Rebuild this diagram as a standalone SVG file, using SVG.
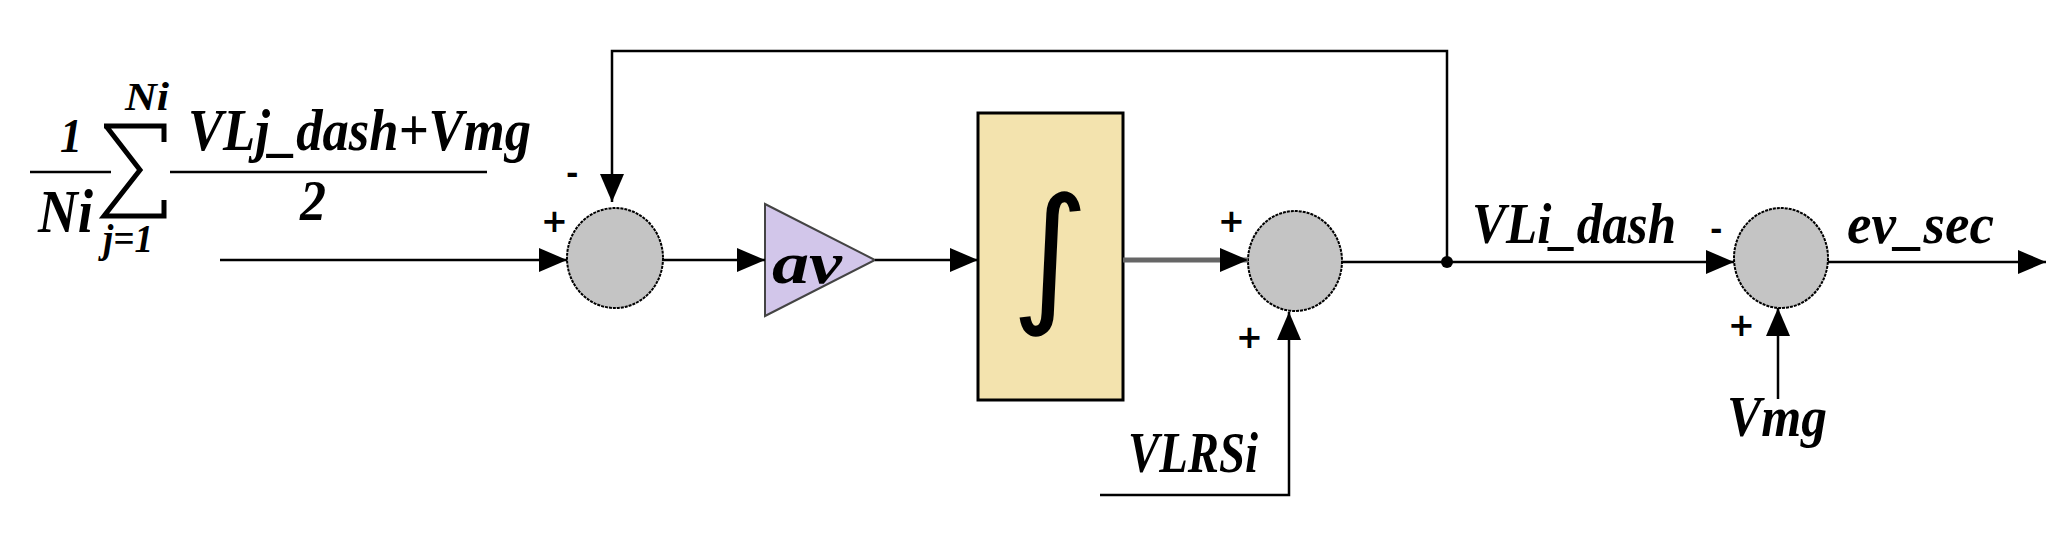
<svg xmlns="http://www.w3.org/2000/svg" width="2062" height="542" viewBox="0 0 2062 542">
<style>
.t{font-family:"Liberation Serif",serif;font-style:italic;font-weight:bold;fill:#000}
.w{stroke:#000;stroke-width:2.5;fill:none}
.sum{fill:#c4c4c4;stroke:#000;stroke-width:2;stroke-dasharray:3 1}
.s{font-family:"DejaVu Sans",sans-serif;font-weight:bold;fill:#000}
</style>
<defs>
<marker id="b" markerWidth="30" markerHeight="24" refX="28" refY="12" orient="auto" markerUnits="userSpaceOnUse"><path d="M0,0 L28,12 L0,24 Z" fill="#000"/></marker>
</defs>
<g id="formula">
<line x1="30" y1="172" x2="111" y2="172" class="w"/>
<line x1="170" y1="172" x2="487" y2="172" class="w"/>
<text class="t" x="60" y="152" font-size="48" textLength="22" lengthAdjust="spacingAndGlyphs">1</text>
<text class="t" x="38" y="232" font-size="62" textLength="55" lengthAdjust="spacingAndGlyphs">Ni</text>
<text class="t" x="125" y="110" font-size="40" textLength="44" lengthAdjust="spacingAndGlyphs">Ni</text>
<text class="t" x="103" y="252" font-size="40" textLength="50" lengthAdjust="spacingAndGlyphs">j=1</text>
<path d="M104,126 L164,126 L164,142 M106,126 L140,170 L104,216 L164,216 L164,200" fill="none" stroke="#000" stroke-width="5"/>
<text class="t" x="188" y="150" font-size="60" textLength="343" lengthAdjust="spacingAndGlyphs">VLj_dash+Vmg</text>
<text class="t" x="300" y="220" font-size="58" textLength="26" lengthAdjust="spacingAndGlyphs">2</text>
</g>
<g id="sum1"><ellipse cx="615" cy="258" rx="48" ry="50" class="sum"/>
<text class="s" x="541" y="232" font-size="32">+</text>
<text class="s" x="566" y="184" font-size="30">-</text></g>
<g id="gain"><polygon points="765,204 875,260 765,316" fill="#d2c6ea" stroke="#444" stroke-width="2"/>
<text class="t" x="772" y="283" font-size="60" textLength="70" lengthAdjust="spacingAndGlyphs">av</text></g>
<g id="integrator"><rect x="978" y="113" width="145" height="287" fill="#f3e3ae" stroke="#000" stroke-width="3"/>
<text x="1050" y="305" font-size="150" text-anchor="middle" font-family="DejaVu Sans,sans-serif">∫</text></g>
<g id="sum2"><ellipse cx="1295" cy="261" rx="47" ry="50" class="sum"/>
<text class="s" x="1218" y="232" font-size="32">+</text>
<text class="s" x="1236" y="348" font-size="32">+</text></g>
<g id="sum3"><ellipse cx="1781" cy="258" rx="47" ry="50" class="sum"/>
<text class="s" x="1710" y="240" font-size="30">-</text>
<text class="s" x="1728" y="336" font-size="32">+</text></g>
<g id="labels">
<text class="t" x="1472" y="243" font-size="58" textLength="204" lengthAdjust="spacingAndGlyphs">VLi_dash</text>
<text class="t" x="1847" y="243" font-size="58" textLength="147" lengthAdjust="spacingAndGlyphs">ev_sec</text>
<text class="t" x="1128" y="472" font-size="58" textLength="130" lengthAdjust="spacingAndGlyphs">VLRSi</text>
<text class="t" x="1727" y="436" font-size="58" textLength="100" lengthAdjust="spacingAndGlyphs">Vmg</text>
</g>
<g id="connectors">
<line x1="220" y1="260" x2="567" y2="260" class="w" marker-end="url(#b)"/>
<polyline points="1447,261 1447,51 612,51 612,202" class="w" marker-end="url(#b)"/>
<line x1="663" y1="260" x2="765" y2="260" class="w" marker-end="url(#b)"/>
<line x1="875" y1="260" x2="978" y2="260" class="w" marker-end="url(#b)"/>
<line x1="1123" y1="260" x2="1248" y2="260" stroke="#666" stroke-width="5" marker-end="url(#b)"/>
<polyline points="1100,495 1289,495 1289,312" class="w" marker-end="url(#b)"/>
<line x1="1342" y1="262" x2="1734" y2="262" class="w" marker-end="url(#b)"/>
<circle cx="1447" cy="262" r="6" fill="#000"/>
<line x1="1778" y1="399" x2="1778" y2="308" class="w" marker-end="url(#b)"/>
<line x1="1828" y1="262" x2="2046" y2="262" class="w" marker-end="url(#b)"/>
</g>
</svg>
